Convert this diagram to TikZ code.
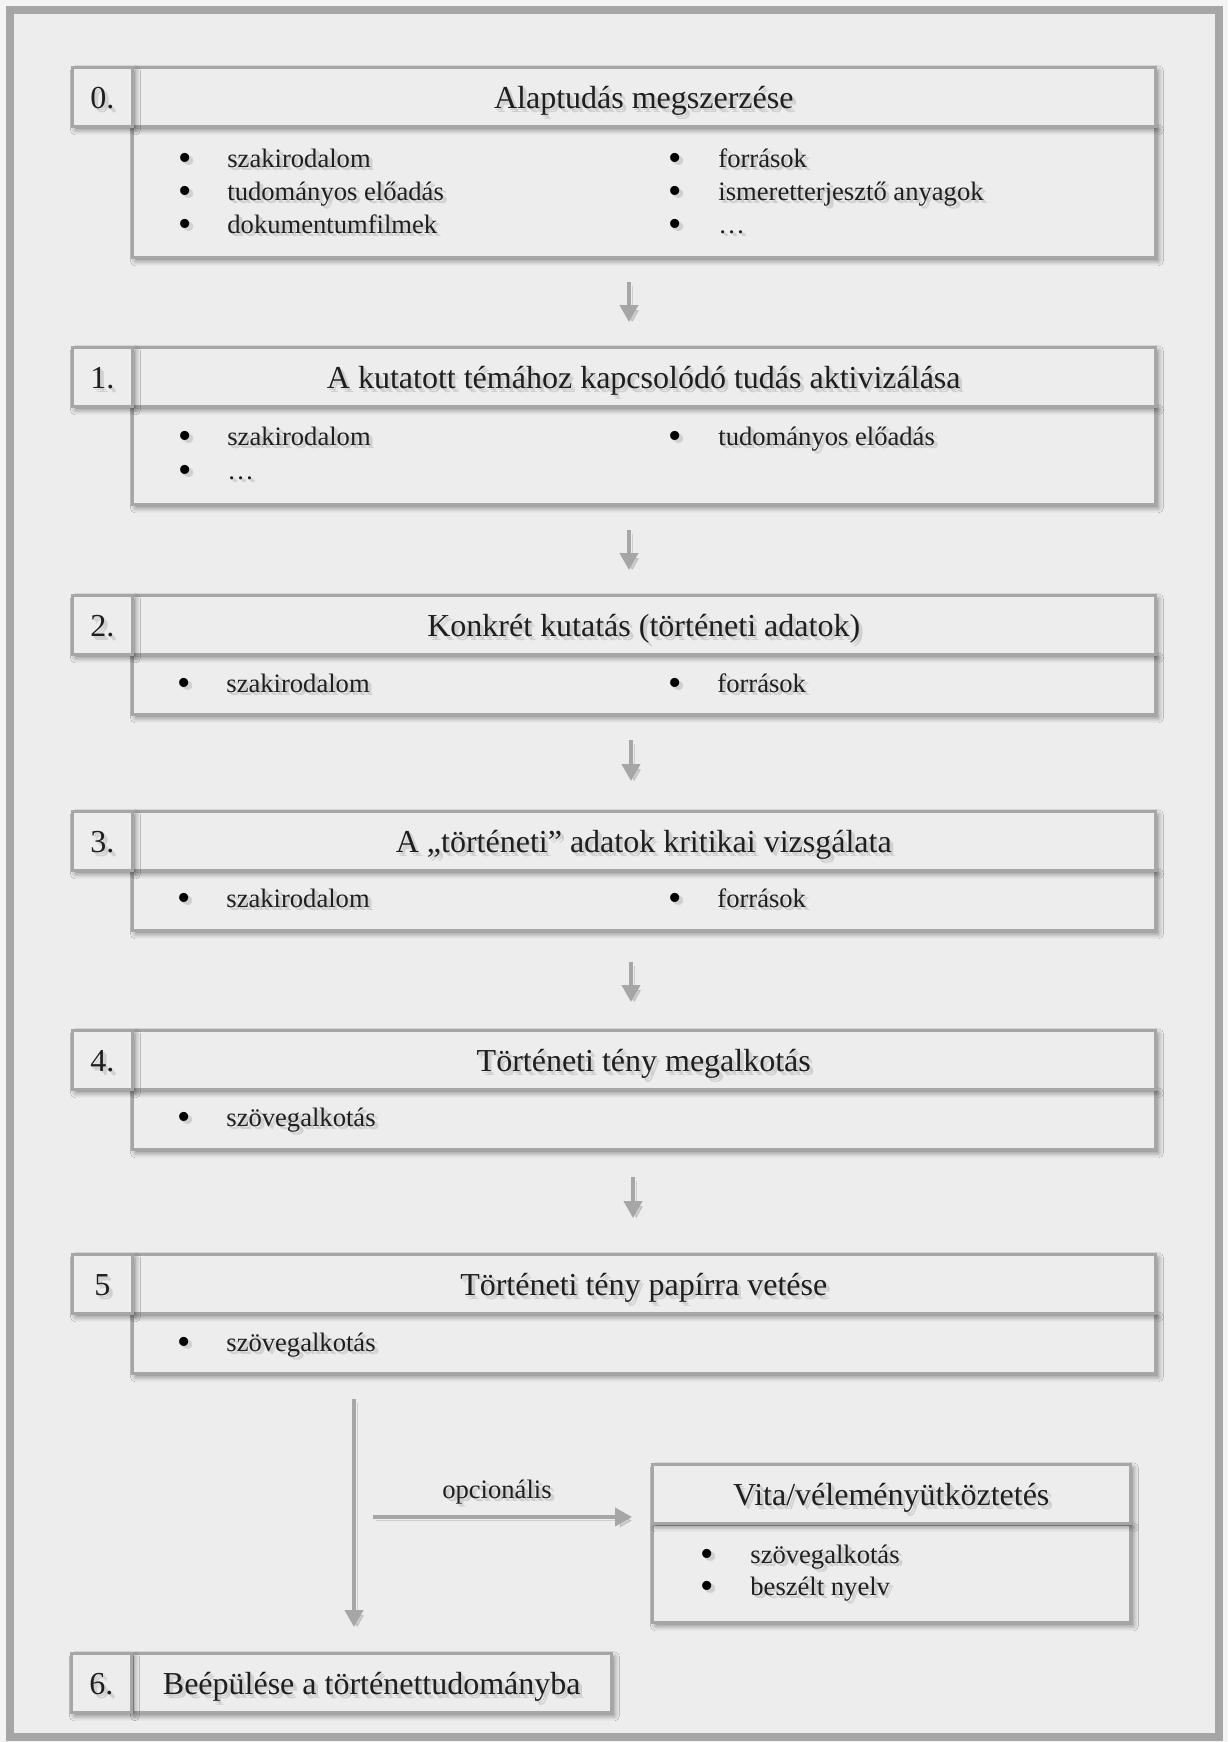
\documentclass[tikz,border=0pt]{standalone}
\usepackage{fontspec}
\setmainfont{Liberation Serif}
\usetikzlibrary{arrows.meta,shadows.blur}

\definecolor{paper}{HTML}{F4F4F4}
\definecolor{panel}{HTML}{EDEDED}
\definecolor{rule}{HTML}{A6A6A6}
\definecolor{ink}{HTML}{1E1E1E}
\definecolor{halo}{HTML}{D0D0D0}

% soft drop shadow behind text: light copies shifted down-right
\newcommand\halocopy[3]{\makebox[0pt][l]{\hspace*{#1}\raisebox{#2}{\textcolor{halo}{#3}}}}
\newcommand\shtext[1]{\halocopy{1.9pt}{-1.9pt}{#1}\halocopy{1.1pt}{-1.1pt}{#1}#1}

\tikzset{
  panelbox/.style={draw=rule, line width=1.25pt, fill=panel, inner sep=0pt,
    anchor=north west,
    blur shadow={shadow xshift=1.6pt, shadow yshift=-1.8pt,
      shadow blur radius=2.5pt, shadow opacity=45}},
  headbox/.style={panelbox, minimum height=29.5pt, text=ink,
    text height=14pt, text depth=2.5pt, font=\fontsize{16}{19}\selectfont},
  numbox/.style={headbox, minimum width=30pt},
  listbox/.style={panelbox},
  bodytext/.style={text=ink, inner sep=0pt, font=\fontsize{13.3}{16}\selectfont},
  bulletmark/.style={text=black, inner sep=0pt, anchor=base,
    font=\fontsize{19}{20}\selectfont},
  itemtext/.style={bodytext, anchor=base west},
  flow/.style={draw=rule, line width=2pt,
    -{Triangle[width=9pt,length=8.5pt]},
    preaction={draw=black, opacity=0.13,
      transform canvas={shift={(1.6pt,-1.8pt)}}}},
}

\begin{document}
\begin{tikzpicture}[x=0.5pt,y=-0.5pt]
% page and outer frame
\fill[paper] (0,0) rectangle (1228,1742);
\useasboundingbox (0,0) rectangle (1228,1742);
\draw[draw=rule, line width=4pt, fill=panel] (9.5,9.5) rectangle (1218.5,1737);

% ---- step 0
\node[listbox, minimum width=511.5pt, minimum height=65.5pt] (c0) at (131,125) {};
\node[headbox, minimum width=511.5pt] (h0) at (131,66) {\shtext{Alaptudás megszerzése}};
\node[numbox] (n0) at (71,66) {\shtext{0.}};
\node[bulletmark] (b0a) at (185,170) {\shtext{•}};
\node[itemtext]   (i0a) at (227,167) {\shtext{szakirodalom}};
\node[bulletmark] (b0b) at (185,203) {\shtext{•}};
\node[itemtext]   (i0b) at (227,200) {\shtext{tudományos előadás}};
\node[bulletmark] (b0c) at (185,236) {\shtext{•}};
\node[itemtext]   (i0c) at (227,233) {\shtext{dokumentumfilmek}};
\node[bulletmark] (b0d) at (675,170) {\shtext{•}};
\node[itemtext]   (i0d) at (718,167) {\shtext{források}};
\node[bulletmark] (b0e) at (675,203) {\shtext{•}};
\node[itemtext]   (i0e) at (718,200) {\shtext{ismeretterjesztő anyagok}};
\node[bulletmark] (b0f) at (675,236) {\shtext{•}};
\node[itemtext]   (i0f) at (718,233) {\shtext{…}};

% ---- step 1
\node[listbox, minimum width=511.5pt, minimum height=49pt] (c1) at (131,405) {};
\node[headbox, minimum width=511.5pt] (h1) at (131,346) {\shtext{A kutatott témához kapcsolódó tudás aktivizálása}};
\node[numbox] (n1) at (71,346) {\shtext{1.}};
\node[bulletmark] (b1a) at (185,448) {\shtext{•}};
\node[itemtext]   (i1a) at (227,445) {\shtext{szakirodalom}};
\node[bulletmark] (b1b) at (185,482) {\shtext{•}};
\node[itemtext]   (i1b) at (227,479) {\shtext{…}};
\node[bulletmark] (b1c) at (675,448) {\shtext{•}};
\node[itemtext]   (i1c) at (718,445) {\shtext{tudományos előadás}};

% ---- step 2
\node[listbox, minimum width=511.5pt, minimum height=30pt] (c2) at (131,653) {};
\node[headbox, minimum width=511.5pt] (h2) at (131,594) {\shtext{Konkrét kutatás (történeti adatok)}};
\node[numbox] (n2) at (71,594) {\shtext{2.}};
\node[bulletmark] (b2a) at (184,695) {\shtext{•}};
\node[itemtext]   (i2a) at (226,692) {\shtext{szakirodalom}};
\node[bulletmark] (b2b) at (675,695) {\shtext{•}};
\node[itemtext]   (i2b) at (717,692) {\shtext{források}};

% ---- step 3
\node[listbox, minimum width=511.5pt, minimum height=30pt] (c3) at (131,869) {};
\node[headbox, minimum width=511.5pt] (h3) at (131,810) {\shtext{A „történeti” adatok kritikai vizsgálata}};
\node[numbox] (n3) at (71,810) {\shtext{3.}};
\node[bulletmark] (b3a) at (184,910) {\shtext{•}};
\node[itemtext]   (i3a) at (226,907) {\shtext{szakirodalom}};
\node[bulletmark] (b3b) at (675,910) {\shtext{•}};
\node[itemtext]   (i3b) at (717,907) {\shtext{források}};

% ---- step 4
\node[listbox, minimum width=511.5pt, minimum height=30pt] (c4) at (131,1088) {};
\node[headbox, minimum width=511.5pt] (h4) at (131,1029) {\shtext{Történeti tény megalkotás}};
\node[numbox] (n4) at (71,1029) {\shtext{4.}};
\node[bulletmark] (b4a) at (184,1129) {\shtext{•}};
\node[itemtext]   (i4a) at (226,1126) {\shtext{szövegalkotás}};

% ---- step 5
\node[listbox, minimum width=511.5pt, minimum height=30pt] (c5) at (131,1312) {};
\node[headbox, minimum width=511.5pt] (h5) at (131,1253) {\shtext{Történeti tény papírra vetése}};
\node[numbox] (n5) at (71,1253) {\shtext{5}};
\node[bulletmark] (b5a) at (184,1354) {\shtext{•}};
\node[itemtext]   (i5a) at (226,1351) {\shtext{szövegalkotás}};

% ---- optional debate box
\node[listbox, minimum width=239pt, minimum height=49pt] (cv) at (651,1523) {};
\node[headbox, minimum width=239pt] (hv) at (651,1463) {\shtext{Vita/véleményütköztetés}};
\node[bulletmark] (bva) at (707,1566) {\shtext{•}};
\node[itemtext]   (iva) at (750,1563) {\shtext{szövegalkotás}};
\node[bulletmark] (bvb) at (707,1598) {\shtext{•}};
\node[itemtext]   (ivb) at (750,1595) {\shtext{beszélt nyelv}};

% ---- step 6
\node[headbox, minimum width=239.5pt] (h6) at (131,1652) {\shtext{Beépülése a történettudományba}};
\node[numbox] (n6) at (70,1652) {\shtext{6.}};

% ---- connectors
\coordinate (a1s) at (629,282);  \coordinate (a1e) at (629,322);
\coordinate (a2s) at (629,530);  \coordinate (a2e) at (629,570);
\coordinate (a3s) at (631,740);  \coordinate (a3e) at (631,781);
\coordinate (a4s) at (631,962);  \coordinate (a4e) at (631,1002);
\coordinate (a5s) at (633,1177); \coordinate (a5e) at (633,1218);
\coordinate (m6s) at (354,1399); \coordinate (m6e) at (354,1627);
\coordinate (ops) at (373,1517); \coordinate (ope) at (632,1517);
\draw[flow] (a1s) -- (a1e);
\draw[flow] (a2s) -- (a2e);
\draw[flow] (a3s) -- (a3e);
\draw[flow] (a4s) -- (a4e);
\draw[flow] (a5s) -- (a5e);
\draw[flow] (m6s) -- (m6e);
\draw[flow] (ops) -- (ope);
\node[bodytext, anchor=base] (opt) at (497,1498) {\shtext{opcionális}};
\end{tikzpicture}
\end{document}
